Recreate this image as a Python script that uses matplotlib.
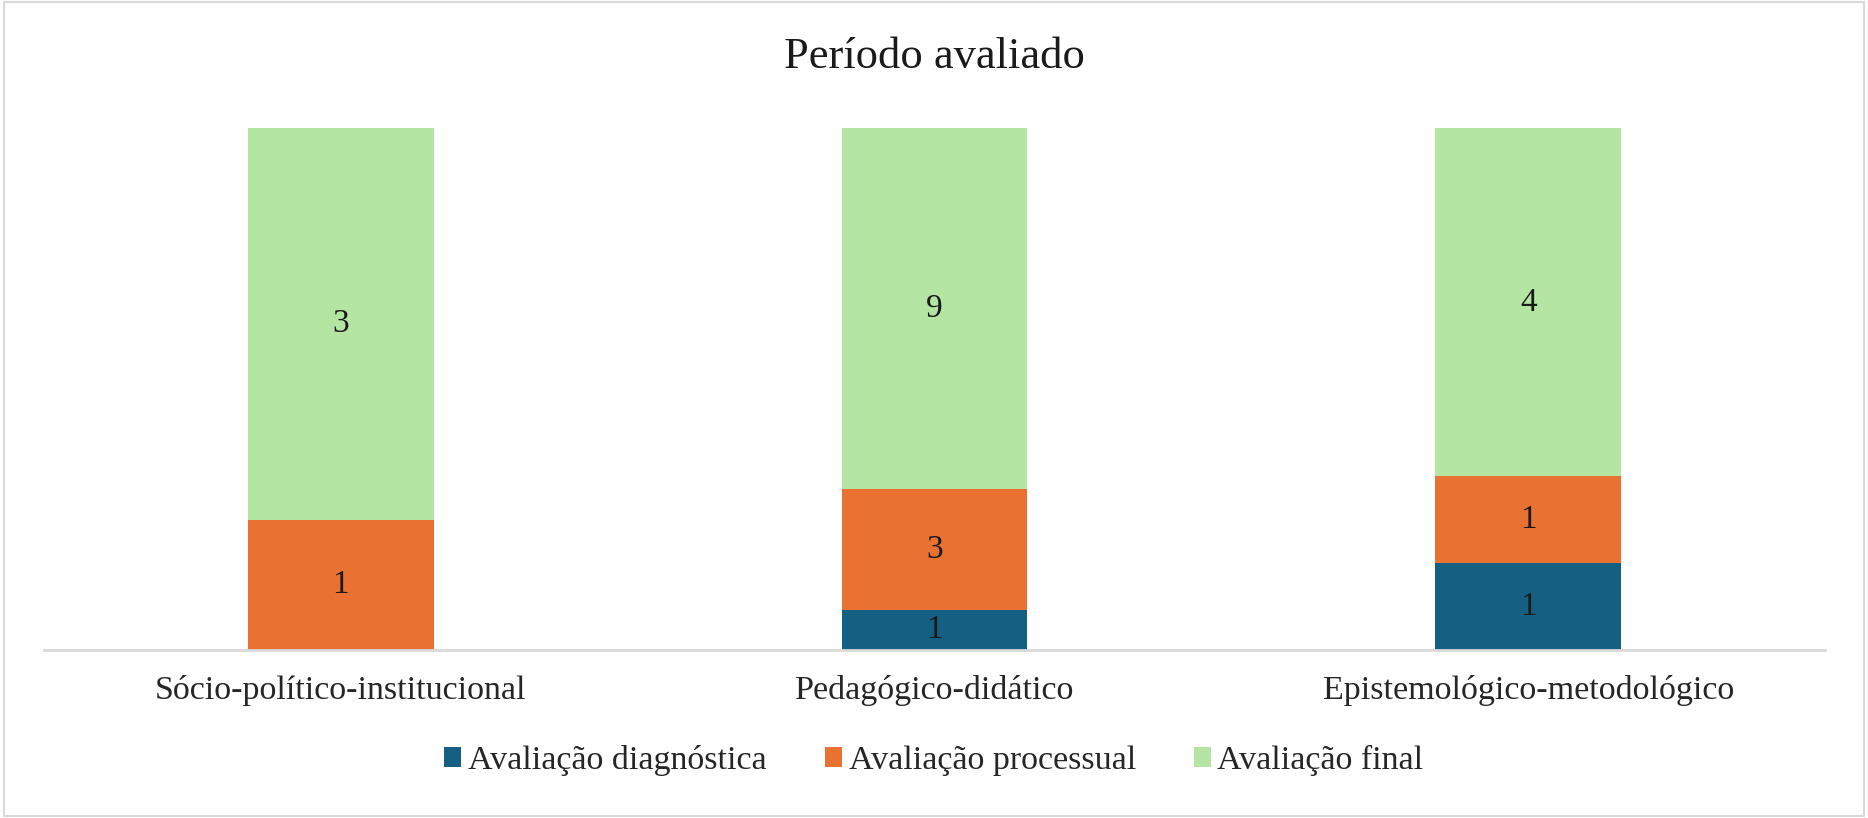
import matplotlib.pyplot as plt
import numpy as np
from matplotlib.patches import Rectangle

# Dados do gráfico
categorias = ['Sócio-político-institucional', 'Pedagógico-didático', 'Epistemológico-metodológico']
series = ['Avaliação diagnóstica', 'Avaliação processual', 'Avaliação final']
diagnostica = [0, 1, 1]
processual = [1, 3, 1]
final = [3, 9, 4]
cores = ['#156082', '#E97132', '#B4E5A2']

valores = np.array([diagnostica, processual, final], dtype=float)
totais = valores.sum(axis=0)
percentuais = valores / totais * 100

fig = plt.figure(figsize=(18.68, 8.18), dpi=100)
ax = fig.add_axes([0.0236, 0.2055, 0.9534, 0.6375])

x = np.arange(len(categorias))
base = np.zeros(len(categorias))
for i, nome in enumerate(series):
    ax.bar(x, percentuais[i], 0.313, bottom=base, color=cores[i], label=nome, zorder=2)
    for j in range(len(categorias)):
        if valores[i, j] > 0:
            ax.text(x[j], base[j] + percentuais[i, j] / 2, f'{int(valores[i, j])}',
                    ha='center', va='center', fontsize=24, family='Liberation Serif', color='#1a1a1a')
    base += percentuais[i]

ax.set_xlim(-0.5, 2.5)
ax.set_ylim(0, 100)
ax.set_yticks([])
ax.set_xticks(x)
ax.set_xticklabels(categorias, fontsize=24.5, family='Liberation Serif', color='#262626')
ax.tick_params(axis='x', length=0, pad=18)
for s in ['top', 'right', 'left']:
    ax.spines[s].set_visible(False)
ax.spines['bottom'].set_color('#d9d9d9')
ax.spines['bottom'].set_linewidth(2)

fig.text(0.5, 0.93, 'Período avaliado', ha='center', va='center', fontsize=32,
         family='Liberation Serif', color='#1a1a1a')

leg = fig.legend(loc='center', bbox_to_anchor=(0.5, 0.07), ncol=3, frameon=False,
                 prop={'family': 'Liberation Serif', 'size': 24.5}, handlelength=0.5,
                 handleheight=0.5, handletextpad=0.2, columnspacing=1.7)
for t in leg.get_texts():
    t.set_color('#262626')

# Borda do gráfico
fig.patches.append(Rectangle((0.002, 0.003), 0.996, 0.994, transform=fig.transFigure,
                             fill=False, edgecolor='#d9d9d9', linewidth=1.5))

fig.savefig('out.png', dpi=100)
